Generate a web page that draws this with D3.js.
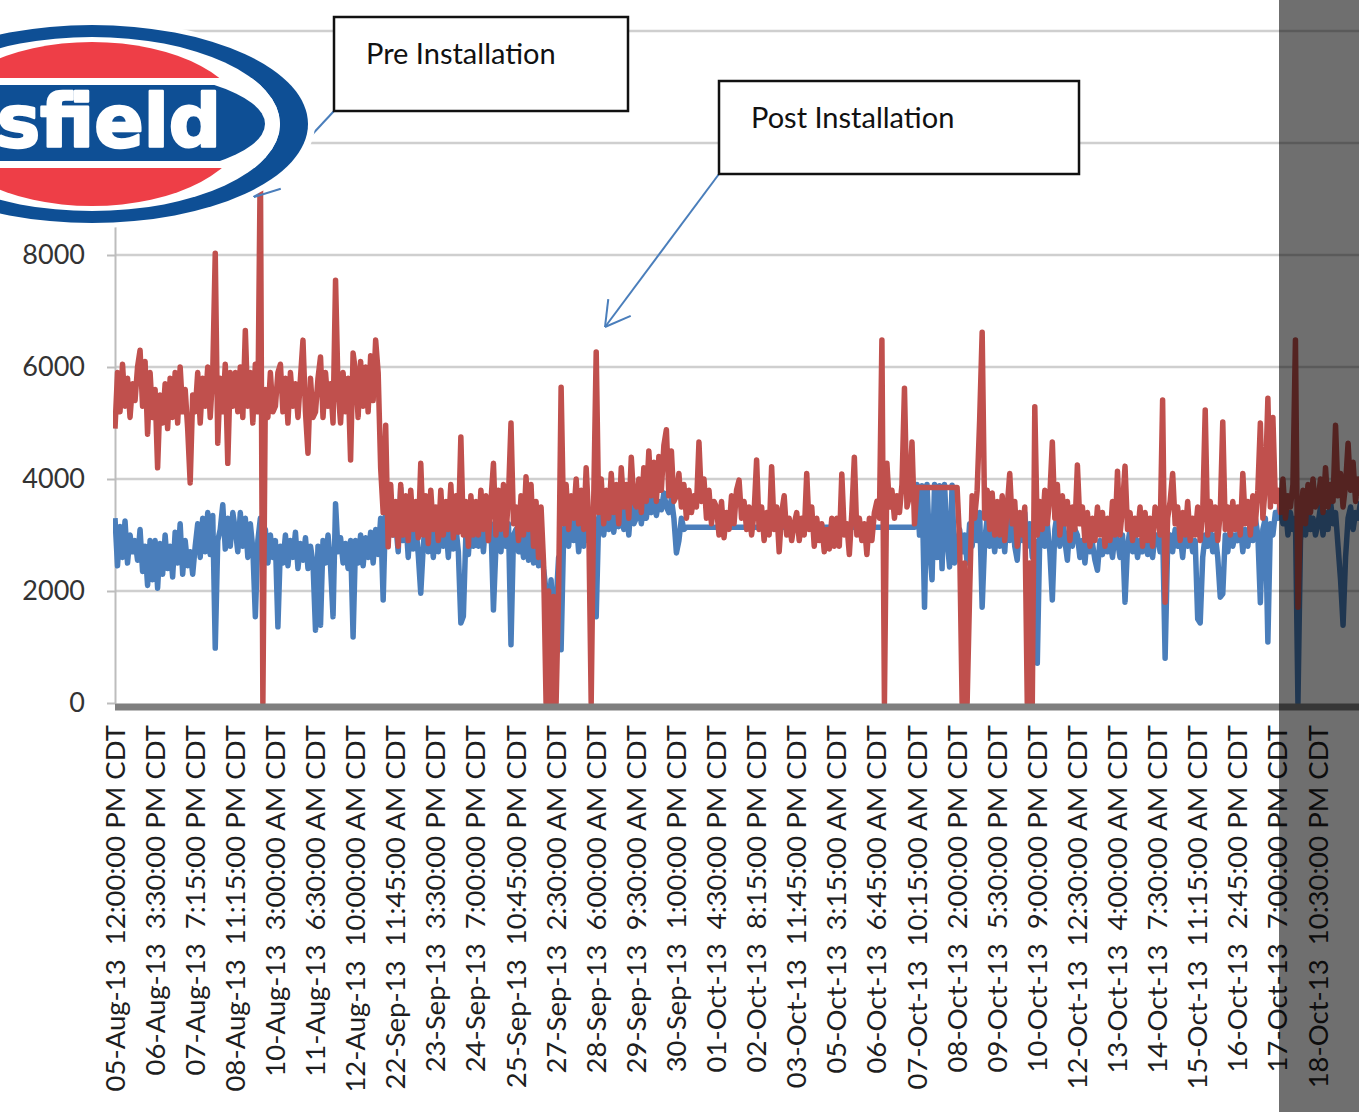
<!DOCTYPE html>
<html>
<head>
<meta charset="utf-8">
<script src="https://cdn.jsdelivr.net/npm/d3@7"></script>
<style>
  body { margin: 0; background: #fff; }
  svg { display: block; }
  text { white-space: pre; }
</style>
</head>
<body>
<svg id="chart"></svg>
<script>
const width = 1359;
const height = 1112;

// category labels, one every 16 samples
const tickLabels = [
  "05-Aug-13  12:00:00 PM CDT", "06-Aug-13  3:30:00 PM CDT", "07-Aug-13  7:15:00 PM CDT",
  "08-Aug-13  11:15:00 PM CDT", "10-Aug-13  3:00:00 AM CDT", "11-Aug-13  6:30:00 AM CDT",
  "12-Aug-13  10:00:00 AM CDT", "22-Sep-13  11:45:00 AM CDT", "23-Sep-13  3:30:00 PM CDT",
  "24-Sep-13  7:00:00 PM CDT", "25-Sep-13  10:45:00 PM CDT", "27-Sep-13  2:30:00 AM CDT",
  "28-Sep-13  6:00:00 AM CDT", "29-Sep-13  9:30:00 AM CDT", "30-Sep-13  1:00:00 PM CDT",
  "01-Oct-13  4:30:00 PM CDT", "02-Oct-13  8:15:00 PM CDT", "03-Oct-13  11:45:00 PM CDT",
  "05-Oct-13  3:15:00 AM CDT", "06-Oct-13  6:45:00 AM CDT", "07-Oct-13  10:15:00 AM CDT",
  "08-Oct-13  2:00:00 PM CDT", "09-Oct-13  5:30:00 PM CDT", "10-Oct-13  9:00:00 PM CDT",
  "12-Oct-13  12:30:00 AM CDT", "13-Oct-13  4:00:00 AM CDT", "14-Oct-13  7:30:00 AM CDT",
  "15-Oct-13  11:15:00 AM CDT", "16-Oct-13  2:45:00 PM CDT", "17-Oct-13  7:00:00 PM CDT",
  "18-Oct-13  10:30:00 PM CDT"
];
const perLabel = 16;
const yTicks = [0, 2000, 4000, 6000, 8000, 10000, 12000];
const yLabelMax = 8000; // higher labels sit under the logo

const redValues = [
  4900,5900,5200,6050,5300,5800,5100,5700,5400,6000,6300,5300,6100,4800,5900,5100,
  5600,4200,5500,5000,5700,4900,5800,5100,5900,5000,6000,5200,5600,4900,3930,5500,
  5200,5900,5000,5800,5300,6000,5100,5900,8030,4640,5800,5200,6050,4280,5900,5300,
  5900,5200,6000,5100,6650,5300,5900,5000,6050,5200,9800,0,5600,5100,5900,5200,
  5300,5900,6050,5200,5800,5000,5900,5300,5700,5100,5800,6480,5200,4460,5800,5100,
  5200,5800,6180,5100,5900,5300,5700,5000,7550,5600,5000,5900,5200,5800,4340,6250,
  5900,5100,6100,5300,6000,5200,6200,5400,6480,5900,4200,3400,4960,2790,3900,3000,
  3600,2800,3900,3000,3700,2900,3800,3100,3600,2950,4280,3000,3700,2850,3800,3100,
  3500,2900,3800,3000,3600,3100,3900,2950,3700,3050,4750,3000,3600,2800,3700,3000,
  3600,3000,3800,3100,3700,2900,3600,4280,3000,3800,3100,3900,3000,3700,5000,3200,
  3500,2900,3700,3000,4040,3100,3900,2800,3600,2600,3500,2500,0,2000,0,1900,
  0,2000,5640,3200,3900,3100,3700,3300,4000,3200,3800,3100,4200,3300,0,3600,
  6270,3400,4000,3200,3800,3300,4100,3400,3900,3200,4200,3500,3900,3300,4390,3600,
  3500,4000,3400,4200,3600,4500,3700,4300,3600,4400,3800,4600,4880,3700,4500,3600,
  3700,4100,3500,3900,3300,3800,3400,3700,3500,4660,3600,4000,3300,3800,3200,3600,
  3500,3000,3600,2950,3400,3100,3700,3200,3800,3980,3300,3600,3100,3500,3000,3400,
  4340,3100,3500,2900,3400,3000,4220,3100,3500,2700,3400,3700,3000,3300,2900,3200,
  3400,2900,3300,3000,4100,3100,3500,2800,3300,2900,3200,2700,3100,2750,3300,2800,
  3300,2800,4090,3000,3200,2650,3400,4390,3000,3300,2900,3200,2650,3300,2900,3400,
  3600,3300,6480,0,4280,3500,3800,3300,3700,3400,3900,5620,3500,3700,4660,3200,
  3850,3850,3850,3850,3850,3850,3850,3850,3850,3850,3850,3850,3850,3850,3850,3850,
  3850,2900,0,2500,0,1960,3700,3300,3800,5050,6620,3300,3800,3100,3750,3000,
  3600,3000,3700,2900,3500,4100,3200,3600,2800,3400,3000,3500,0,2500,0,5290,
  3000,3600,3100,3800,3200,3700,4660,3300,3900,3000,3700,3200,3600,2900,3500,3100,
  4250,3200,3500,2900,3400,2800,3300,2900,3500,3000,3400,2800,3300,2900,3600,3000,
  4140,3000,3500,4230,3100,3400,2900,3300,3000,3500,2800,3400,2900,3300,2800,3500,
  3400,3000,5410,1800,3300,3600,4100,3200,3500,2900,3400,3000,3600,2900,3300,3000,
  3500,2900,3400,5230,3000,3600,3100,3500,2900,3400,5020,3100,3500,3000,3600,3100,
  3500,3000,4100,3200,3600,3000,3700,3200,3800,5000,3300,3900,5440,3500,5100,3600,
  3800,3400,4000,3300,3700,3500,3900,6480,1710,3300,3800,3200,3900,3400,4000,3500,
  3600,4000,3400,4200,3500,3900,3600,4960,3700,4100,3500,3900,4640,3800,4300,3600,
  4000,3700
];

const blueValues = [
  3300,2450,3150,2600,3250,2500,3000,2700,2900,2550,3100,2350,2800,2100,2900,2200,
  2900,2050,2850,2300,3000,2400,2800,2250,3050,2500,3200,2300,2900,2450,2700,2300,
  2800,3200,2600,3300,2700,3400,2650,3350,980,2900,3100,3540,2750,3300,2800,3400,
  3100,2700,3400,2800,3300,2600,3200,2750,1540,2900,3300,2700,3100,2500,3000,2600,
  2900,1360,2800,2500,3000,2450,2900,2600,3050,2400,2850,2550,2950,2400,2800,2500,
  1300,2800,1390,2900,2500,3000,2450,1540,3560,2700,2950,2500,2850,2400,2900,1180,
  2900,2500,3000,2450,2950,2600,3050,2500,3100,2650,3300,1840,3500,2900,3700,3000,
  3200,2700,3840,2900,3300,2600,3400,2750,3200,2650,1960,2800,3300,2700,3200,2600,
  3100,2700,3300,2800,3200,2600,3400,2750,3150,2700,1430,1550,3000,2650,3300,2800,
  3200,2800,3400,2700,3300,2900,3200,1660,2800,3300,2700,3400,2800,3200,1040,3000,
  3100,2700,3000,2600,3200,2550,3050,2500,2950,2450,2900,2400,2000,1500,2200,1200,
  1800,2600,950,3000,3300,2800,3400,2900,3300,2700,3200,2800,3400,2900,3000,3300,
  1540,3300,3600,3000,3500,3100,3600,3050,3400,3150,3650,3100,3500,3000,3600,3200,
  3300,3600,3200,3550,3300,3650,3400,3700,3350,3600,3450,3750,3500,3400,3650,3300,
  2680,2900,3300,3100,3140,3140,3140,3140,3140,3140,3140,3140,3140,3140,3140,3140,
  3140,3140,3140,3140,3140,3140,3140,3140,3140,3140,3140,3140,3140,3140,3140,3140,
  3140,3140,3140,3140,3140,3140,3140,3140,3140,3140,3140,3140,3140,3140,3140,3140,
  3140,3140,3140,3140,3140,3140,3140,3140,3140,3140,3140,3140,3140,3140,3140,3140,
  3140,3140,3140,3140,3140,3140,3140,3140,3140,3140,3140,3140,3140,3140,3140,3140,
  3140,3140,3140,3140,3140,3140,3140,3140,3140,3140,3140,3140,3140,3140,3140,3140,
  3900,3000,3880,1710,3900,2800,2200,3900,2600,3880,2400,3900,2900,2430,3890,2500,
  2600,3100,2700,3000,2500,3200,2800,3300,2900,3400,1710,2900,3300,2800,3200,2700,
  3200,2800,3300,2700,3400,2900,3500,2800,2550,3300,2900,3400,2800,3200,2600,2900,
  710,3000,3300,2800,3200,2700,1840,3100,3400,2800,3300,2900,2550,3200,2800,3100,
  3000,2600,2900,2500,3000,2700,2850,2550,2370,2900,2650,3000,2700,2900,2600,3000,
  2900,2600,3000,1800,2800,3100,2700,3000,2600,2900,2700,3100,2650,2950,2600,3000,
  3000,2700,3100,800,2800,3000,2700,3100,2800,3000,2600,3100,2800,3000,2700,2900,
  1500,1430,2600,3000,2800,3100,2700,3000,2600,1890,1950,3000,2700,3100,2800,3000,
  2900,3200,2700,3100,2800,3200,2900,3300,3000,1790,3100,3300,1090,3200,3000,3400,
  3300,3600,3200,3500,3000,3400,3100,3300,0,2900,3400,3000,3500,3100,3300,3000,
  3200,3500,3000,3400,3100,3600,3200,3400,2800,2200,1390,2600,3300,3500,3100,3400,
  3300,3600
];

const blueColor = "#4a7ebb";
const redColor = "#c0504d";
const font = "Lato, 'Open Sans', sans-serif";

const svg = d3.select("#chart")
  .attr("width", width)
  .attr("height", height);

const x = d3.scaleLinear()
  .domain([0, 30 * perLabel])
  .range([115, 1318]);

const y = d3.scaleLinear()
  .domain([0, 12000])
  .range([703, 31]);

svg.append("defs").append("clipPath")
  .attr("id", "plot-clip")
  .append("rect")
  .attr("x", 113).attr("y", 0)
  .attr("width", width - 113).attr("height", 706);

// gridlines
svg.append("g")
  .selectAll("line")
  .data(yTicks.filter(d => d > 0))
  .join("line")
  .attr("x1", 115).attr("x2", width)
  .attr("y1", d => y(d)).attr("y2", d => y(d))
  .attr("stroke", "#cfcfcf")
  .attr("stroke-width", 2.5);

// y axis
const yAxis = svg.append("g")
  .attr("transform", "translate(115,0)")
  .call(d3.axisLeft(y)
    .tickValues(yTicks)
    .tickFormat(d3.format("d"))
    .tickSize(8).tickSizeOuter(0).tickPadding(22));
yAxis.select(".domain").attr("stroke", "#bdbdbd").attr("stroke-width", 2);
yAxis.selectAll(".tick line").attr("stroke", "#bdbdbd").attr("stroke-width", 2);
yAxis.selectAll(".tick").filter(d => d > yLabelMax).select("text").remove();
yAxis.selectAll("text")
  .attr("font-family", font)
  .attr("font-size", 27)
  .attr("fill", "#333");

// series
const line = d3.line()
  .x((d, i) => x(i))
  .y(d => y(d));

const series = svg.append("g").attr("clip-path", "url(#plot-clip)");
series.append("path")
  .datum(blueValues)
  .attr("d", line)
  .attr("fill", "none")
  .attr("stroke", blueColor)
  .attr("stroke-width", 5.5)
  .attr("stroke-linejoin", "round");
series.append("path")
  .datum(redValues)
  .attr("d", line)
  .attr("fill", "none")
  .attr("stroke", redColor)
  .attr("stroke-width", 5.5)
  .attr("stroke-linejoin", "round");

// x axis: thick bar + rotated labels
svg.append("line")
  .attr("x1", 115).attr("x2", width)
  .attr("y1", y(0) + 4).attr("y2", y(0) + 4)
  .attr("stroke", "#7f7f7f")
  .attr("stroke-width", 7);

const xAxis = svg.append("g")
  .attr("transform", `translate(0,${y(0)})`)
  .call(d3.axisBottom(x)
    .tickValues(d3.range(tickLabels.length).map(k => k * perLabel))
    .tickFormat((d, i) => tickLabels[i])
    .tickSize(0));
xAxis.select(".domain").remove();
xAxis.selectAll("text")
  .attr("transform", "rotate(-90)")
  .attr("text-anchor", "end")
  .attr("x", -22)
  .attr("y", 0)
  .attr("dy", "0.33em")
  .attr("font-family", font)
  .attr("font-size", 27.5)
  .attr("fill", "#1e1e1e");

// annotations
function callout(box, label, from, to) {
  const g = svg.append("g");
  const dx = from[0] - to[0], dy = from[1] - to[1];
  const ang = Math.atan2(dy, dx);
  const len = 28, spread = Math.PI / 6;
  g.append("line")
    .attr("x1", from[0]).attr("y1", from[1])
    .attr("x2", to[0]).attr("y2", to[1])
    .attr("stroke", blueColor).attr("stroke-width", 2);
  [ang - spread, ang + spread].forEach(a => {
    g.append("line")
      .attr("x1", to[0]).attr("y1", to[1])
      .attr("x2", to[0] + len * Math.cos(a)).attr("y2", to[1] + len * Math.sin(a))
      .attr("stroke", blueColor).attr("stroke-width", 2);
  });
  g.append("rect")
    .attr("x", box[0]).attr("y", box[1])
    .attr("width", box[2]).attr("height", box[3])
    .attr("fill", "#fff")
    .attr("stroke", "#111")
    .attr("stroke-width", 2.5);
  g.append("text")
    .attr("x", box[0] + 32).attr("y", box[1] + 47)
    .attr("font-family", font)
    .attr("font-size", 29)
    .attr("fill", "#111")
    .text(label);
}
callout([334, 17, 294, 94], "Pre Installation", [334, 111], [254, 197]);
callout([719, 81, 360, 93], "Post Installation", [719, 174], [605, 327]);

// logo (cropped at the left edge)
const logoBlue = "#0e4f95";
const logoRed = "#ee3e47";
const defs = svg.select("defs");
defs.append("clipPath").attr("id", "logo-inner")
  .append("ellipse").attr("cx", 92).attr("cy", 124).attr("rx", 188).attr("ry", 87);
defs.append("clipPath").attr("id", "logo-band")
  .append("ellipse").attr("cx", 92).attr("cy", 124).attr("rx", 173).attr("ry", 55);

const logo = svg.append("g");
logo.append("ellipse").attr("cx", 92).attr("cy", 124).attr("rx", 223).attr("ry", 104).attr("fill", "#fff");
logo.append("ellipse").attr("cx", 92).attr("cy", 124).attr("rx", 216).attr("ry", 99).attr("fill", logoBlue);
logo.append("ellipse").attr("cx", 92).attr("cy", 124).attr("rx", 188).attr("ry", 87).attr("fill", "#fff");
logo.append("ellipse").attr("cx", 92).attr("cy", 124).attr("rx", 154).attr("ry", 82).attr("fill", logoRed);
logo.append("rect")
  .attr("x", -200).attr("y", 78).attr("width", 520).attr("height", 90)
  .attr("fill", "#fff").attr("clip-path", "url(#logo-inner)");
logo.append("rect")
  .attr("x", -200).attr("y", 85).attr("width", 520).attr("height", 76)
  .attr("fill", logoBlue).attr("clip-path", "url(#logo-band)");
logo.append("text")
  .attr("x", 221).attr("y", 147)
  .attr("text-anchor", "end")
  .attr("font-family", "'DejaVu Sans', sans-serif")
  .attr("font-weight", "bold")
  .attr("font-size", 73)
  .attr("letter-spacing", 0)
  .attr("fill", "#fff")
  .attr("stroke", "#fff")
  .attr("stroke-width", 2.5)
  .attr("stroke-linejoin", "round")
  .text("Mansfield");

// dark strip over the right edge
svg.append("rect")
  .attr("x", 1279).attr("y", 0)
  .attr("width", width - 1279).attr("height", height)
  .attr("fill", "#000")
  .attr("fill-opacity", 0.565);
</script>
</body>
</html>
